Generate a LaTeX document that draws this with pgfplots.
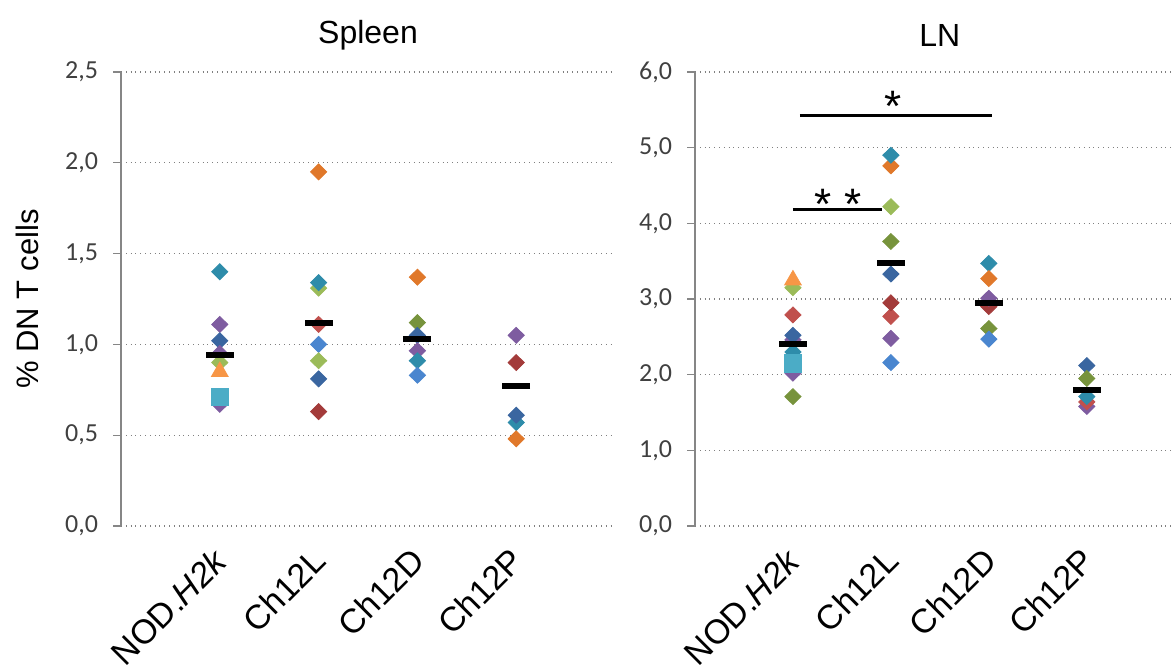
\documentclass[border=0pt]{standalone}
\usepackage{pgfplots}
\pgfplotsset{compat=1.18}
\usepackage{fontspec}
\setmainfont{Liberation Sans}
\newfontfamily\calib{Carlito}

\definecolor{tl}{HTML}{2E8CAA}
\definecolor{pu}{HTML}{7E5CA0}
\definecolor{db}{HTML}{3A66A0}
\definecolor{gr}{HTML}{9BBB59}
\definecolor{ol}{HTML}{77933C}
\definecolor{orr}{HTML}{E0782A}
\definecolor{lor}{HTML}{F79646}
\definecolor{rd}{HTML}{C0504D}
\definecolor{dr}{HTML}{A33B3A}
\definecolor{bl}{HTML}{4A86CF}
\definecolor{cy}{HTML}{4BACC6}
\definecolor{axgray}{HTML}{868686}
\definecolor{tickgray}{HTML}{404040}

\pgfplotsset{
  dotplot/.style={
    scale only axis, anchor=south west,
    height=227pt,
    ymin=0,
    xmin=0,
    axis lines=left,
    axis line style={-, draw=axgray, line width=0.6pt},
    x axis line style={draw=none},
    xtick={1,2,3,4},
    xticklabels={NOD.\textit{H2k}, Ch12L, Ch12D, Ch12P},
    xtick style={draw=none},
    xticklabel style={rotate=45, anchor=north east, font=\fontsize{17}{18}\selectfont,
      inner sep=0pt, xshift=-6.7pt, yshift=-1.3pt},
    ytick style={draw=axgray, line width=0.6pt},
    tick align=outside,
    major tick length=4pt,
    ymajorgrids=true,
    grid style={dotted, gray, line width=0.7pt},
    /pgf/number format/assume math mode=true,
    yticklabel style={/pgf/number format/.cd, fixed, fixed zerofill, precision=1, use comma,
      /tikz/.cd, font=\calib\fontsize{13}{14}\selectfont, text=tickgray, xshift=-4pt},
    title style={font=\fontsize{16}{17}\selectfont, anchor=center, yshift=12.5pt},
    clip=false,
  },
  dia/.style={scatter, only marks, scatter src=explicit symbolic, mark size=4pt,
    every mark/.append style={xscale=1.35},
    scatter/classes={
      tl={mark=diamond*, draw=tl, fill=tl},
      pu={mark=diamond*, draw=pu, fill=pu},
      db={mark=diamond*, draw=db, fill=db},
      gr={mark=diamond*, draw=gr, fill=gr},
      ol={mark=diamond*, draw=ol, fill=ol},
      or={mark=diamond*, draw=orr, fill=orr},
      rd={mark=diamond*, draw=rd, fill=rd},
      dr={mark=diamond*, draw=dr, fill=dr},
      bl={mark=diamond*, draw=bl, fill=bl}}},
  sq/.style={only marks, mark=square*, mark size=4.3pt, color=cy},
  tri/.style={only marks, mark=triangle*, mark size=4.8pt, color=lor},
  meanbar/.style={only marks, mark=-, mark size=7pt, black, mark options={line width=3pt}},
}

\begin{document}
\begin{tikzpicture}
\path[use as bounding box] (0,0) rectangle (585.5pt,334.5pt);

% Spleen
\begin{axis}[dotplot, at={(60.5pt,71.5pt)}, width=247pt, xmax=5, ymax=2.5,
  ytick={0,0.5,1,1.5,2,2.5}, title={Spleen},
  ylabel={\% DN T cells},
  every axis y label/.style={at={(axis description cs:-0.19,0.5)}, rotate=90, anchor=center,
    font=\fontsize{15.5}{16}\selectfont}]
\addplot[dia] table[meta=c] {
x y c
1 1.40 tl
1 1.11 pu
1 1.02 db
1 0.95 pu
1 0.90 gr
1 0.67 pu
2 1.95 or
2 1.31 gr
2 1.34 tl
2 1.11 rd
2 1.00 bl
2 0.91 gr
2 0.81 db
2 0.63 dr
3 1.37 or
3 1.12 ol
3 1.05 db
3 0.965 pu
3 0.91 tl
3 0.83 bl
4 1.05 pu
4 0.90 dr
4 0.57 tl
4 0.61 db
4 0.48 or
};
\addplot[tri] coordinates {(1,0.85)};
\addplot[sq] coordinates {(1,0.71)};
\addplot[meanbar] coordinates {(1,0.94)(2,1.12)(3,1.03)(4,0.77)};
\end{axis}

% LN
\begin{axis}[dotplot, at={(347.5pt,71.5pt)}, width=238pt, xmax=4.86, ymax=6,
  ytick={0,1,2,3,4,5,6}, title={LN},
  title style={at={(0.5144,1)}}]
\addplot[dia] table[meta=c] {
x y c
1 3.15 gr
1 2.79 rd
1 2.46 pu
1 2.52 db
1 2.30 tl
1 2.02 pu
1 1.71 ol
2 4.76 or
2 4.90 tl
2 4.22 gr
2 3.76 ol
2 3.33 db
2 2.77 rd
2 2.95 dr
2 2.48 pu
2 2.16 bl
3 3.47 tl
3 3.27 or
3 2.90 dr
3 3.01 pu
3 2.61 ol
3 2.47 bl
4 2.12 db
4 1.95 ol
4 1.58 pu
4 1.64 rd
4 1.71 tl
};
\addplot[tri] coordinates {(1,3.25)};
\addplot[sq] coordinates {(1,2.15)};
\addplot[meanbar] coordinates {(1,2.41)(2,3.47)(3,2.95)(4,1.80)};
\addplot[black, line width=1.5pt] coordinates {(1.07,5.43)(3.03,5.43)};
\addplot[black, line width=1.5pt] coordinates {(1.0,4.18)(1.91,4.18)};
\node[font=\fontsize{22}{22}\selectfont] at (axis cs:2.02,5.55) {*};
\node[font=\fontsize{22}{22}\selectfont] at (axis cs:1.46,4.25) {*\ *};
\end{axis}
\end{tikzpicture}
\end{document}
